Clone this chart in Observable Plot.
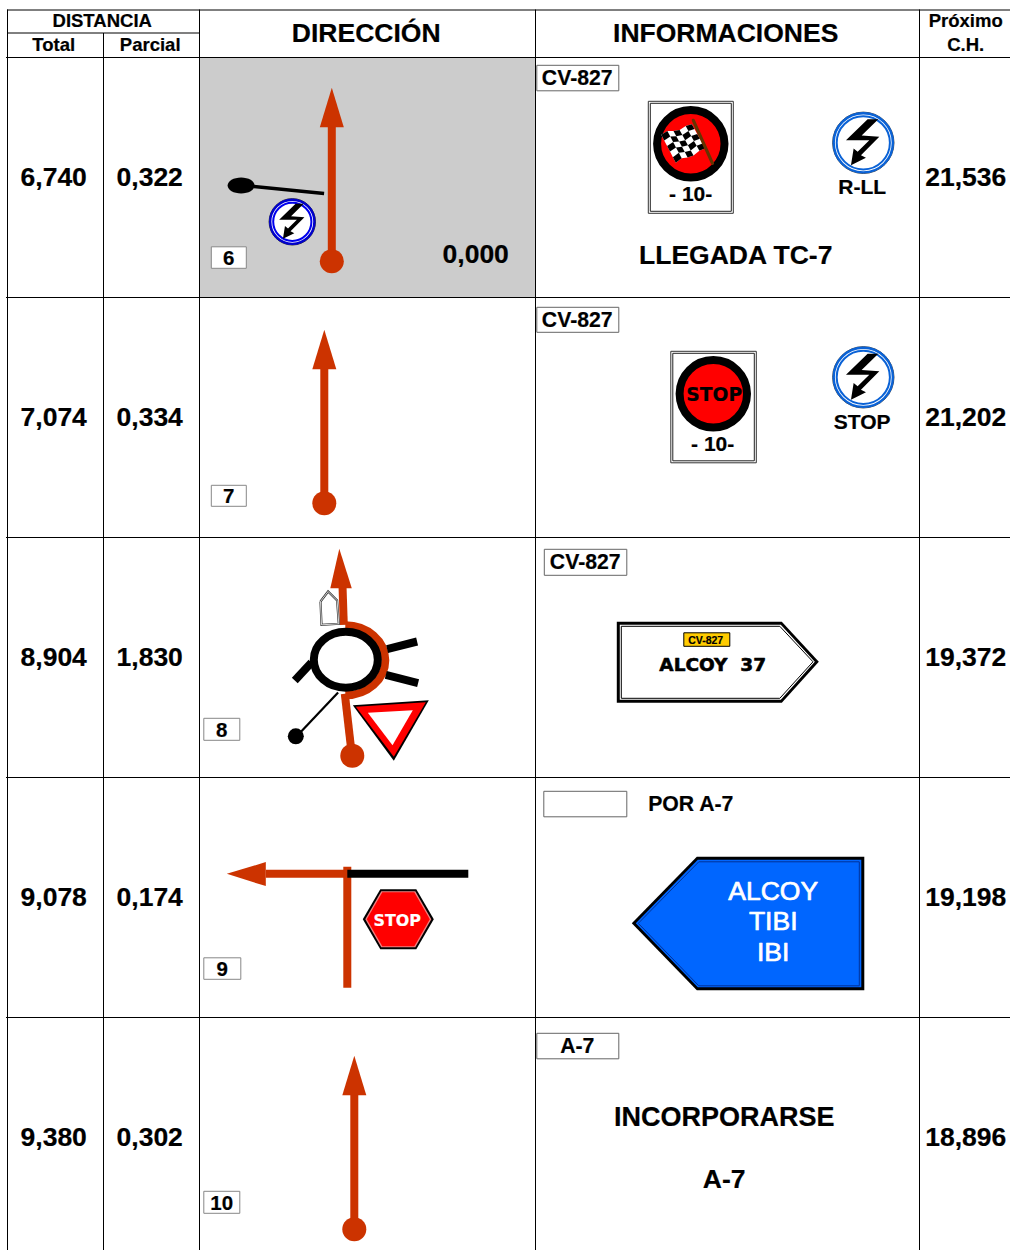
<!DOCTYPE html>
<html><head><meta charset="utf-8">
<style>html,body{margin:0;padding:0;background:#fff}svg{display:block}</style>
<script src="https://cdn.jsdelivr.net/npm/d3@7"></script>
<script src="https://cdn.jsdelivr.net/npm/@observablehq/plot@0.6"></script>
</head><body><div id="chart"></div>
<script>
// ---- values of the table
const totals = ["6,740","7,074","8,904","9,078","9,380"];
const parciales = ["0,322","0,334","1,830","0,174","0,302"];
const proximos = ["21,536","21,202","19,372","19,198","18,896"];
const casillas = ["6","7","8","9","10"];
const carreteras = ["CV-827","CV-827","CV-827","","A-7"];
const encabezados = ["DIRECCIÓN","INFORMACIONES"];
const subEncabezados = ["Total","Parcial"];
const lineasAzul = ["ALCOY","TIBI","IBI"];

// ---- drawing coordinates, in the 1010x1250 page frame
const rowY = [57,297,537,777,1017];
const filaBase = [186,426,666,906,1146];
const boxes = [[211.5,246.5,247,268.5],[211.5,246.5,485.5,506.5],[204,240,718.5,740.5],[204,241,958,979.5],[204,240,1191.5,1213.5]];
const cvBoxes = [[537,619,65.5,91],[537,619,307.5,332.5],[544.5,627,549.5,575.5],[544,627,791.5,817],[537,619,1033.5,1059]];
const cvText = [[577.5,85.5],[577.5,327.5],[585.5,569.5],[585,811],[577.5,1053.5]];
const boltShape = [[13,-71],[45,-71],[-5,-22],[48,-18],[-7,37],[8,45],[-37,67],[-29,17],[-17,27],[18,-8],[-52,-8]];

const ROJO = "#cc3300", FONT = "Liberation Sans";
const SHIFT = {dx:-0.7, dy:-0.7};

const poly = (pts, o = {}) => Plot.line([...pts, pts[0]], {curve:"linear", stroke:"none", strokeLinejoin:"miter", strokeLinecap:"butt", strokeMiterlimit:10, ...SHIFT, ...o});
const seg = (pts, color, w, o = {}) => Plot.line(pts, {curve:"linear", stroke:color, strokeWidth:w, strokeLinecap:"butt", strokeLinejoin:"round", ...SHIFT, ...o});
const box = ([x1,x2,y1,y2], o = {}) => poly([[x1,y1],[x2,y1],[x2,y2],[x1,y2]], {fill:"#fff", stroke:"#777", strokeWidth:1, ...o});
const txt = (t, x, y, size, o = {}) => Plot.text([t], {x:[x], y:[y], text:d=>d, fontSize:size, fontFamily:FONT, fontWeight:"bold", lineAnchor:"bottom", textAnchor:"middle", fill:"#000", stroke:"#000", strokeWidth:0.2, dx:-0.8, dy:-1, ...o});
const disc = (x, y, r, o = {}) => Plot.dot([[x,y]], {r, fill:"none", stroke:"none", ...SHIFT, ...o});

// ellipses drawn as dot symbols
const K = 0.5523;
const ellipseSym = (rx, ry) => ({draw(c) {
  c.moveTo(rx,0);
  c.bezierCurveTo(rx,K*ry,K*rx,ry,0,ry);
  c.bezierCurveTo(-K*rx,ry,-rx,K*ry,-rx,0);
  c.bezierCurveTo(-rx,-K*ry,-K*rx,-ry,0,-ry);
  c.bezierCurveTo(K*rx,-ry,rx,-K*ry,rx,0);
  c.closePath();
}});
const halfEllipseSym = (rx, ry) => ({draw(c) {
  c.moveTo(0,-ry);
  c.bezierCurveTo(K*rx,-ry,rx,-K*ry,rx,0);
  c.bezierCurveTo(rx,K*ry,K*rx,ry,0,ry);
}});
const oval = (x, y, sym, o = {}) => Plot.dot([[x,y]], {r:1, symbol:sym, fill:"none", stroke:"none", ...SHIFT, ...o});

function upArrow(x, tip, base, cy) {
  return [
    seg([[x,base-1],[x,cy]], ROJO, 8),
    poly([[x,tip],[x+12,base],[x-12,base]], {fill:ROJO}),
    disc(x, cy, 12, {fill:ROJO})
  ];
}
function boltSign(cx, cy, r, ringOuter, ringInner, edge) {
  const s = r / 93;
  return [
    disc(cx, cy, r-0.3, {fill:"#fff", stroke:edge, strokeWidth:0.8}),
    disc(cx, cy, r-1.4, {stroke:ringOuter, strokeWidth:2.4}),
    disc(cx, cy, r-4.4, {stroke:ringInner, strokeWidth:2}),
    poly(boltShape.map(([a,b]) => [cx+a*s, cy+b*s]), {fill:"#000"})
  ];
}
function panel(x1, x2, y1, y2) {
  return [
    box([x1,x2,y1,y2], {stroke:"#333", strokeWidth:1}),
    box([x1+2,x2-2,y1+2,y2-2], {stroke:"#222", strokeWidth:1})
  ];
}

// chequered flag: black cells across a slightly waved quadrilateral
const flagLT = [661.5,135], flagRT = [692,124.5], flagRB = [705.5,148.5], flagLB = [676,163];
const ola = [0,-1.6,0.4,1.4,-0.4,0];
const flagPoint = (u, v) => {
  const U = u/5, V = v/5;
  const px = (1-U)*(1-V)*flagLT[0]+U*(1-V)*flagRT[0]+U*V*flagRB[0]+(1-U)*V*flagLB[0];
  const py = (1-U)*(1-V)*flagLT[1]+U*(1-V)*flagRT[1]+U*V*flagRB[1]+(1-U)*V*flagLB[1];
  return [px, py + ola[u]];
};
const flagCells = [];
for (let u = 0; u < 5; u++) for (let v = 0; v < 5; v++) if ((u+v)%2===0) flagCells.push(poly([flagPoint(u,v),flagPoint(u+1,v),flagPoint(u+1,v+1),flagPoint(u,v+1)], {fill:"#000"}));
const flagEdge = [];
for (let u = 0; u <= 5; u++) flagEdge.push(flagPoint(u,0));
for (let v = 1; v <= 5; v++) flagEdge.push(flagPoint(5,v));
for (let u = 4; u >= 0; u--) flagEdge.push(flagPoint(u,5));
for (let v = 4; v >= 1; v--) flagEdge.push(flagPoint(0,v));

const marks = [
  // shaded first row of DIRECCIÓN
  Plot.rect([0], {x1:[199.5], x2:[535.5], y1:[57.5], y2:[297.5], fill:"#cccccc"}),

  // grid
  Plot.ruleY([9.5], {x1:7, x2:1010, stroke:"#000", strokeWidth:1}),
  Plot.ruleY([32.5], {x1:7, x2:199, stroke:"#000", strokeWidth:1}),
  Plot.ruleY(rowY, {x1:6, x2:1010, stroke:"#000", strokeWidth:1}),
  Plot.ruleX([7], {y1:9.5, y2:1250, stroke:"#000", strokeWidth:1}),
  Plot.ruleX([103], {y1:33, y2:1250, stroke:"#000", strokeWidth:1}),
  Plot.ruleX([199,535,919], {y1:9.5, y2:1250, stroke:"#000", strokeWidth:1}),

  // headers
  txt("DISTANCIA", 102.5, 27, 18.5),
  txt(subEncabezados[0], 54, 51, 18.5),
  txt(subEncabezados[1], 150.5, 51, 18.5),
  txt(encabezados[0], 366.5, 42, 26.5),
  txt(encabezados[1], 726, 42, 26.5),
  txt("Próximo", 966, 27, 18.5),
  txt("C.H.", 966, 51, 18.5),

  // numbers
  ...totals.map((t,i) => txt(t, 54, filaBase[i], 26.5)),
  ...parciales.map((t,i) => txt(t, 150, filaBase[i], 26.5)),
  ...proximos.map((t,i) => txt(t, 966, filaBase[i], 26.5)),

  // box numbers
  ...boxes.map((b,i) => box(b, {stroke:"#888"})),
  ...casillas.map((t,i) => txt(t, (boxes[i][0]+boxes[i][1])/2, boxes[i][3]-3.5, 20.5)),

  // road boxes
  ...cvBoxes.map(b => box(b, {stroke:"#666"})),
  ...carreteras.map((t,i) => txt(t, cvText[i][0], cvText[i][1], 21.2)),

  // ---- row 1: direction
  seg([[254,186.7],[324.3,193.7]], "#000", 3.5),
  oval(241.3, 185.7, ellipseSym(13.5, 8), {fill:"#000"}),
  ...boltSign(292.5, 222, 23.5, "#0000cc", "#0000ee", "#000"),
  ...upArrow(332, 88, 127.5, 261.5),
  txt("0,000", 476, 263.5, 26.5),

  // row 1: informations
  ...panel(648.5, 733.5, 101.5, 213.5),
  disc(691, 144, 33.7, {fill:"#ff0000", stroke:"#000", strokeWidth:8}),
  poly(flagEdge, {fill:"#fff"}),
  ...flagCells,
  seg([[693.5,120.5],[712.7,163.5]], "#663300", 3.2, {strokeLinecap:"round"}),
  txt("- 10-", 691, 201, 21),
  ...boltSign(863.5, 143, 31, "#0a62d6", "#0a62d6", "#222"),
  txt("R-LL", 862.5, 194, 21),
  txt("LLEGADA TC-7", 736, 264, 26.5),

  // ---- row 2
  ...upArrow(324.5, 330, 369.5, 503.5),
  ...panel(671, 756.5, 351.5, 463),
  disc(713.5, 394, 33.7, {fill:"#ff0000", stroke:"#000", strokeWidth:8}),
  txt("STOP", 714.5, 401.5, 18.7, {fontFamily:"DejaVu Sans"}),
  txt("- 10-", 713, 451, 21),
  ...boltSign(863.5, 377.5, 31, "#0a62d6", "#0a62d6", "#222"),
  txt("STOP", 862.5, 429, 21),

  // ---- row 3: roundabout
  seg([[342.7,586],[344,625]], ROJO, 8),
  poly([[339.5,549],[352,588.5],[330.5,588.5]], {fill:ROJO}),
  oval(345.5, 660.5, halfEllipseSym(40, 35), {stroke:ROJO, strokeWidth:8, strokeLinecap:"butt"}),
  seg([[345,694],[352,755]], ROJO, 8),
  disc(352.5, 756, 12, {fill:ROJO}),
  seg([[387.3,649.3],[417.3,641.7]], "#000", 8),
  seg([[386,675],[418.3,683.3]], "#000", 8),
  seg([[311.7,662.7],[295,680.7]], "#000", 8),
  oval(346, 660, ellipseSym(32, 28), {stroke:"#000", strokeWidth:8, fill:"#fff"}),
  seg([[338.3,692.7],[300,733.3]], "#000", 2.2),
  disc(296, 736.5, 8, {fill:"#000"}),
  poly([[320.7,601.7],[328.3,591.7],[337.3,600.7],[339,624],[321.7,625]], {fill:"#fff", stroke:"#333", strokeWidth:2.2}),
  poly([[320.7,601.7],[328.3,591.7],[337.3,600.7],[339,624],[321.7,625]], {stroke:"#fff", strokeWidth:0.8}),
  poly([[353,705.5],[429,700.5],[394,761]], {fill:"#000"}),
  poly([[356,707],[426,702.5],[394,757]], {fill:"#ff0000"}),
  poly([[368,713],[413,710.5],[392.7,745.5]], {fill:"#fff"}),

  // row 3: sign
  poly([[617,622],[782,622],[819,662],[782,703],[617,703]], {fill:"#000"}),
  poly([[620,625],[781,625],[815,662],[781,700],[620,700]], {fill:"#fff"}),
  poly([[621.5,626.5],[780,626.5],[813.2,662],[780,698.5],[621.5,698.5]], {fill:"#fff", stroke:"#000", strokeWidth:1}),
  box([684,730,633,646.5], {fill:"#ffcc00", stroke:"#000"}),
  txt(carreteras[2], 706, 644, 10.5),
  txt("ALCOY\u00a0\u00a037", 713, 671, 18.5, {fontFamily:"DejaVu Sans", strokeWidth:0.6}),

  // ---- row 4
  seg([[266,874],[347,874]], ROJO, 8),
  poly([[227,874],[266,862.3],[266,886.3]], {fill:ROJO}),
  seg([[347.5,867],[347.5,988]], ROJO, 8),
  seg([[347.5,874],[468.5,874]], "#000", 8),
  poly([[363,919.5],[380.5,889.5],[416.5,889.5],[434,919.5],[416.5,949.5],[380.5,949.5]], {fill:"#000"}),
  poly([[365.5,919.5],[381.5,891.5],[415.5,891.5],[431.5,919.5],[415.5,947.5],[381.5,947.5]], {fill:"#f08080"}),
  poly([[367,919.5],[382.5,892.5],[414.5,892.5],[430,919.5],[414.5,946.5],[382.5,946.5]], {fill:"#ff0000"}),
  txt("STOP", 397.5, 926, 15.9, {fill:"#fff", stroke:"#fff", fontFamily:"DejaVu Sans"}),
  Plot.text(["POR A-7"], {x:[648.5], y:[811.5], text:d=>d, fontSize:21.2, fontFamily:FONT, fontWeight:"bold", lineAnchor:"bottom", textAnchor:"start", stroke:"#000", strokeWidth:0.2, fill:"#000", dx:-0.8, dy:-1}),
  poly([[632,923.5],[697,857],[864.5,857],[864.5,990.5],[697,990.5]], {fill:"#000"}),
  poly([[636,923.5],[698,860],[861.5,860],[861.5,987.5],[698,987.5]], {fill:"#0066ff"}),
  poly([[638.5,923.5],[699,862],[859.5,862],[859.5,986],[699,986]], {fill:"#0066ff", stroke:"#003399", strokeWidth:1}),
  ...lineasAzul.map((t,i) => txt(t, 773.5, [900,930.5,961][i], 26.5, {fill:"#fff", fontWeight:"normal", stroke:"#fff", strokeWidth:0.7})),

  // ---- row 5
  ...upArrow(354.5, 1056, 1095.5, 1229.5),
  txt("INCORPORARSE", 724.5, 1126, 27),
  txt("A-7", 724.5, 1188, 26.5)
];

const plot = Plot.plot({
  width:1010, height:1250, margin:0,
  x:{domain:[0,1010], axis:null},
  y:{domain:[1250,0], axis:null},
  style:{background:"#fff"},
  marks
});
document.getElementById("chart").append(plot);
</script>
</body></html>
